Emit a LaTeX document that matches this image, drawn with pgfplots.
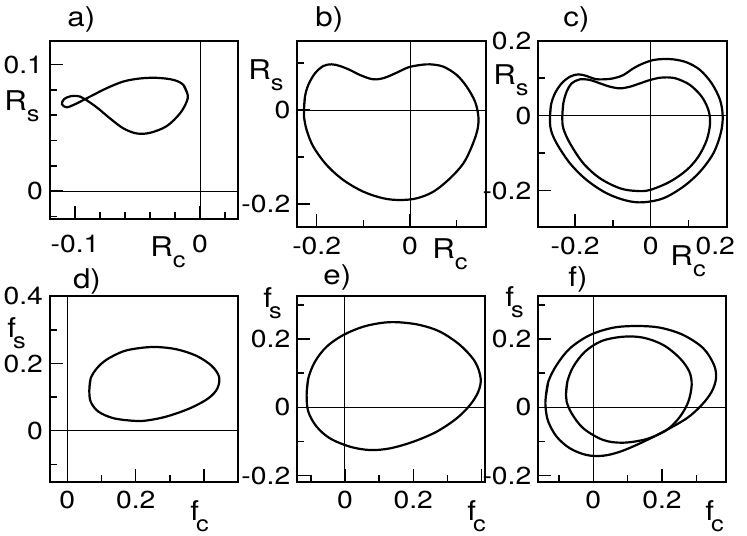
\documentclass[border=0pt]{standalone}
\usepackage{fontspec}
\setmainfont{TeX Gyre Heros}[FakeStretch=1.15]
\usepackage{pgfplots}
\pgfplotsset{compat=1.18}

\newcommand\ticfont{\fontsize{12.3}{13}\selectfont}
\newcommand\labfont{\fontsize{13.6}{16}\selectfont}
\newcommand\subfont{\fontsize{11}{12}\selectfont}
\newcommand\Rl[1]{R\raisebox{-5.5pt}{\subfont #1}}
\newcommand\Fl[1]{f\kern-1.5pt\raisebox{-5.5pt}{\subfont #1}}

\tikzset{zero/.style={black, line width=0.5pt}}
\pgfplotsset{
  panel/.style={
    scale only axis, anchor=south west,
    axis line style={line width=1pt},
    tick align=inside, xtick pos=left, ytick pos=left,
    major tick length=6.5pt, minor tick length=3.5pt,
    every tick/.style={black, line width=0.75pt},
    tick label style={font=\ticfont},
    xticklabel style={yshift=-1.2pt},
  },
  orbit/.style={black, line width=1.1pt, smooth, tension=0.55, mark=none},
}

\begin{document}
\begin{tikzpicture}
\path[use as bounding box] (0,0) rectangle (373.5pt,267.5pt);

% a)
\begin{axis}[panel, at={(25pt,157.75pt)}, width=93.85pt, height=89.4pt,
  xmin=-0.12, xmax=0.0301, ymin=-0.0225, ymax=0.119,
  xtick={-0.1,0}, xticklabels={-0.1,0}, minor xtick={-0.08,-0.06,-0.04,-0.02,0.02},
  ytick={0,0.1}, yticklabels={0,0.1}, minor ytick={-0.02,0.02,0.04,0.06,0.08},
  xticklabel style={yshift=-3.2pt}]
\draw[zero] (0,-0.0225) -- (0,0.119);
\draw[zero] (-0.12,0) -- (0.0301,0);
\addplot[orbit] coordinates {
(-0.00987,0.0761) (-0.01333,0.0840) (-0.02133,0.0880) (-0.03467,0.0896)
(-0.048,0.0891) (-0.06133,0.0867) (-0.07467,0.0814) (-0.08533,0.0761)
(-0.092,0.0727) (-0.1,0.0687) (-0.10667,0.0663) (-0.1104,0.0687)
(-0.1088,0.0727) (-0.10267,0.0753) (-0.096,0.0748) (-0.092,0.0727)
(-0.08267,0.0663) (-0.072,0.0575) (-0.06133,0.0496) (-0.05067,0.0456)
(-0.04,0.0461) (-0.02667,0.0514) (-0.016,0.0615) (-0.01067,0.0708)
(-0.00987,0.0761) (-0.01333,0.0840)
};
\end{axis}

% b)
\begin{axis}[panel, at={(148.65pt,153.85pt)}, width=94.2pt, height=93.3pt,
  xmin=-0.2414, xmax=0.1621, ymin=-0.2496, ymax=0.1475,
  xtick={-0.2,0}, xticklabels={-0.2,0}, minor xtick={-0.1,0.1},
  ytick={-0.2,0}, yticklabels={-0.2,0}, minor ytick={-0.1,0.1}]
\draw[zero] (0,-0.2496) -- (0,0.1475);
\draw[zero] (-0.2414,0) -- (0.1621,0);
\addplot[orbit] coordinates {
(-0.2271,0) (-0.225,0.0284) (-0.2179,0.0532) (-0.2036,0.078) (-0.1857,0.0936)
(-0.1679,0.0972) (-0.15,0.0936) (-0.1286,0.0851) (-0.1071,0.0745) (-0.0857,0.0667)
(-0.0714,0.0652) (-0.0536,0.0688) (-0.0286,0.0794) (-0.0036,0.0908) (0.0214,0.0957)
(0.0429,0.0972) (0.0714,0.0922) (0.1,0.0745) (0.1214,0.0496) (0.1393,0.0177)
(0.1464,-0.0142) (0.1443,-0.0426) (0.1321,-0.078) (0.1143,-0.1135) (0.0857,-0.1454)
(0.05,-0.1738) (0.0143,-0.1879) (-0.0214,-0.1915) (-0.0571,-0.1879) (-0.1,-0.1738)
(-0.1429,-0.1489) (-0.1786,-0.117) (-0.2071,-0.078) (-0.2214,-0.0426) (-0.2271,-0.0142)
(-0.2271,0) (-0.225,0.0284)
};
\end{axis}

% c)
\begin{axis}[panel, at={(269.15pt,153.85pt)}, width=94.2pt, height=93.3pt,
  xmin=-0.2974, xmax=0.2012, ymin=-0.2978, ymax=0.2,
  xtick={-0.2,0,0.2}, xticklabels={-0.2,0,0.2\hspace*{11pt}}, minor xtick={-0.1,0.1},
  ytick={-0.2,0,0.2}, yticklabels={-0.2,0,0.2}, minor ytick={-0.1,0.1}]
\draw[zero] (0,-0.2978) -- (0,0.2);
\draw[zero] (-0.2974,0) -- (0.2012,0);
\addplot[orbit] coordinates {
(-0.2665,-0.0071) (-0.2639,0.0284) (-0.2533,0.0596) (-0.2357,0.0862) (-0.2136,0.104)
(-0.1915,0.1102) (-0.1695,0.1058) (-0.1474,0.0978) (-0.1253,0.0969) (-0.0989,0.0996)
(-0.0724,0.1084) (-0.0459,0.1262) (-0.0194,0.1396) (0.0071,0.1484) (0.0335,0.1511)
(0.06,0.1502) (0.0953,0.1422) (0.1306,0.1218) (0.1615,0.0862) (0.1836,0.0418)
(0.1906,-0.0027) (0.1853,-0.0471) (0.1659,-0.1004) (0.1306,-0.1493) (0.0865,-0.1893)
(0.0335,-0.2204) (-0.0194,-0.2311) (-0.0635,-0.2267) (-0.1165,-0.2071) (-0.1695,-0.1716)
(-0.2136,-0.1271) (-0.2489,-0.0738) (-0.2639,-0.0382) (-0.2665,-0.0071) (-0.2639,0.0284)
};
\addplot[orbit] coordinates {
(-0.2339,-0.0027) (-0.2312,0.0329) (-0.2224,0.064) (-0.2092,0.0862) (-0.1871,0.0969)
(-0.1606,0.0951) (-0.1342,0.0862) (-0.1077,0.0773) (-0.0812,0.0729) (-0.0547,0.0773)
(-0.0282,0.0862) (-0.0018,0.0951) (0.0247,0.1013) (0.0424,0.1022) (0.0688,0.0987)
(0.1041,0.0818) (0.135,0.0507) (0.1527,0.0151) (0.1571,-0.0204) (0.1483,-0.0649)
(0.1262,-0.1093) (0.0953,-0.1449) (0.0512,-0.176) (-0.0018,-0.1982) (-0.0371,-0.2009)
(-0.0812,-0.1938) (-0.1342,-0.1671) (-0.1783,-0.1271) (-0.2136,-0.0738) (-0.2312,-0.0338)
(-0.2339,-0.0027) (-0.2312,0.0329)
};
\end{axis}

% d)
\begin{axis}[panel, at={(25pt,26.65pt)}, width=93.85pt, height=93pt,
  xmin=-0.0507, xmax=0.4985, ymin=-0.1517, ymax=0.402,
  xtick={0,0.2,0.4}, xticklabels={0,0.2,}, minor xtick={0.1,0.3},
  ytick={0,0.2,0.4}, yticklabels={0,0.2,0.4}, minor ytick={-0.1,0.1,0.3}]
\draw[zero] (0,-0.1517) -- (0,0.402);
\draw[zero] (-0.0507,0) -- (0.4985,0);
\addplot[orbit] coordinates {
(0.0644,0.1212) (0.0683,0.1557) (0.0859,0.1852) (0.1151,0.2118) (0.1639,0.2365)
(0.2127,0.2463) (0.2615,0.2493) (0.32,0.2424) (0.3785,0.2227) (0.4224,0.1931)
(0.4439,0.1606) (0.439,0.1261) (0.4127,0.0966) (0.359,0.067) (0.2907,0.0424)
(0.2322,0.0305) (0.1932,0.0296) (0.1346,0.0374) (0.0907,0.0571) (0.0683,0.0867)
(0.0644,0.1212) (0.0683,0.1557)
};
\end{axis}

% e)
\begin{axis}[panel, at={(148.65pt,26.65pt)}, width=93.85pt, height=93pt,
  xmin=-0.1395, xmax=0.4098, ymin=-0.2176, ymax=0.3268,
  xtick={0,0.2,0.4}, xticklabels={0,0.2,}, minor xtick={-0.1,0.1,0.3},
  ytick={-0.2,0,0.2}, yticklabels={-0.2,0,0.2}, minor ytick={-0.1,0.1,0.3}]
\draw[zero] (0,-0.2176) -- (0,0.3268);
\draw[zero] (-0.1395,0) -- (0.4098,0);
\addplot[orbit] coordinates {
(-0.1122,0.0361) (-0.1073,0.0849) (-0.0878,0.1337) (-0.0537,0.1776) (-0.0049,0.2117)
(0.0537,0.2361) (0.1122,0.2478) (0.161,0.2488) (0.2195,0.241) (0.278,0.2215)
(0.3366,0.1824) (0.3805,0.1337) (0.3971,0.0849) (0.3902,0.0459) (0.3659,0.0068)
(0.3268,-0.0322) (0.2683,-0.0712) (0.2,-0.1005) (0.1317,-0.12) (0.0732,-0.1249)
(0.0146,-0.1151) (-0.0439,-0.0907) (-0.0829,-0.0566) (-0.1073,-0.0127)
(-0.1122,0.0361) (-0.1073,0.0849)
};
\end{axis}

% f)
\begin{axis}[panel, at={(269.15pt,26.65pt)}, width=93.85pt, height=93pt,
  xmin=-0.1602, xmax=0.3864, ymin=-0.2176, ymax=0.3268,
  xtick={0,0.2}, xticklabels={0,0.2}, minor xtick={-0.1,0.1,0.3},
  ytick={-0.2,0,0.2}, yticklabels={-0.2,0,0.2}, minor ytick={-0.1,0.1,0.3}]
\draw[zero] (0,-0.2176) -- (0,0.3268);
\draw[zero] (-0.1602,0) -- (0.3864,0);
\addplot[orbit] coordinates {
(-0.1388,0.0263) (-0.1311,0.0751) (-0.1068,0.1239) (-0.068,0.1727) (-0.0097,0.2117)
(0.0583,0.2332) (0.1262,0.238) (0.1942,0.2332) (0.2621,0.2117) (0.3204,0.1727)
(0.3515,0.1239) (0.3573,0.0849) (0.3447,0.0459) (0.3155,0.0068) (0.2718,-0.0322)
(0.2039,-0.0712) (0.1359,-0.1054) (0.0777,-0.1298) (0.0291,-0.1415) (-0.0194,-0.1395)
(-0.068,-0.12) (-0.1068,-0.0859) (-0.1311,-0.042) (-0.1388,-0.0029)
(-0.1388,0.0263) (-0.1311,0.0751)
};
\addplot[orbit] coordinates {
(-0.0796,0.0361) (-0.0757,0.0751) (-0.0583,0.119) (-0.0243,0.1629) (0.0243,0.1941)
(0.0874,0.2068) (0.1456,0.2039) (0.2039,0.1824) (0.2524,0.1434) (0.2796,0.1044)
(0.2864,0.0654) (0.2767,0.0166) (0.2524,-0.0273) (0.2136,-0.0663) (0.1553,-0.0927)
(0.0874,-0.1034) (0.0291,-0.0956) (-0.0291,-0.0615) (-0.0631,-0.0176) (-0.0777,0.0166)
(-0.0796,0.0361) (-0.0757,0.0751)
};
\end{axis}

% panel letters and axis names
\begin{scope}[every node/.style={anchor=base west, inner sep=0pt, font=\labfont}]
\node at (33.5pt,254.15pt) {a)};
\node at (157.5pt,254.15pt) {b)};
\node at (281.5pt,254.15pt) {c)};
\node at (36.35pt,123pt) {d)};
\node at (161.5pt,125pt) {e)};
\node at (284pt,124pt) {f)};
\node at (2pt,212pt) {\Rl{s}};
\node at (124pt,227.5pt) {\Rl{s}};
\node at (246.5pt,225pt) {\Rl{s}};
\node at (75pt,139pt) {\Rl{c}};
\node at (216pt,138pt) {\Rl{c}};
\node at (335pt,134.5pt) {\Rl{c}};
\node at (3.5pt,99pt) {\Fl{s}};
\node at (131.5pt,113.6pt) {\Fl{s}};
\node at (252.5pt,114pt) {\Fl{s}};
\node at (95pt,7.5pt) {\Fl{c}};
\node at (233.5pt,7.5pt) {\Fl{c}};
\node at (352.5pt,7.5pt) {\Fl{c}};
\end{scope}
\end{tikzpicture}
\end{document}
